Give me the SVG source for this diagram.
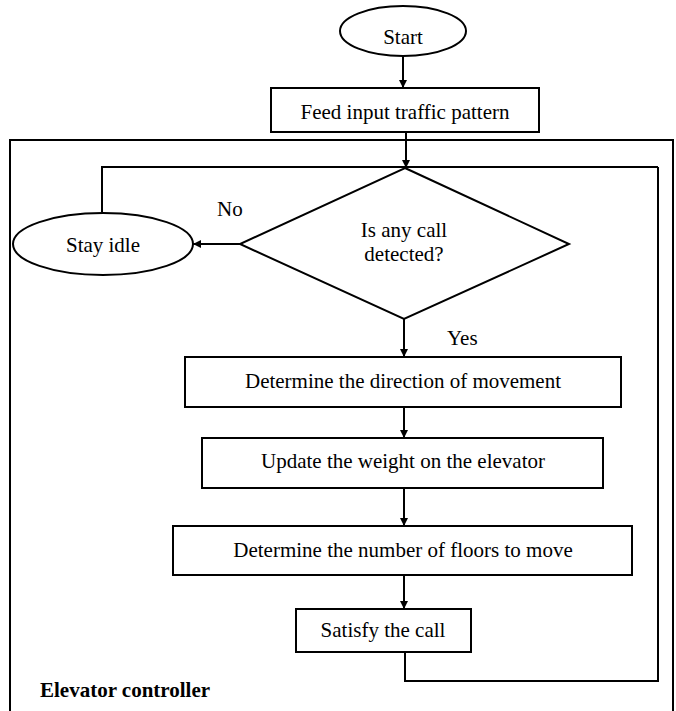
<svg xmlns="http://www.w3.org/2000/svg" width="676" height="711" viewBox="0 0 676 711">
<style>
.s{fill:#fff;stroke:#000;stroke-width:2}
.c{fill:none;stroke:#000;stroke-width:2}
.m{text-anchor:middle}
text{font-family:"Liberation Serif",serif;font-size:21px}
</style>
<defs>
<marker id="ah" viewBox="0 0 10 10" refX="10" refY="5" markerWidth="8" markerHeight="8" markerUnits="userSpaceOnUse" orient="auto">
<path d="M0,0 L10,5 L0,10 z" fill="#000"/>
</marker>
</defs>
<rect x="0" y="0" width="676" height="711" fill="#fff"/>
<g id="controller">
<rect x="10" y="140" width="663" height="590" fill="none" stroke="#000" stroke-width="2"/>
<text font-weight="bold" x="40" y="697">Elevator controller</text>
</g>
<g id="connectors">
<line class="c" x1="403" y1="56" x2="403" y2="88" marker-end="url(#ah)"/>
<line class="c" x1="406" y1="132" x2="406" y2="168" marker-end="url(#ah)"/>
<polyline class="c" points="102,212 102,167 658,167"/>
<polyline class="c" points="405,652 405,681 658,681 658,167"/>
<line class="c" x1="240" y1="244" x2="193" y2="244" marker-end="url(#ah)"/>
<line class="c" x1="404" y1="319" x2="404" y2="357" marker-end="url(#ah)"/>
<line class="c" x1="404" y1="407" x2="404" y2="438" marker-end="url(#ah)"/>
<line class="c" x1="404" y1="488" x2="404" y2="526" marker-end="url(#ah)"/>
<line class="c" x1="404" y1="575" x2="404" y2="609" marker-end="url(#ah)"/>
<text x="217" y="216">No</text>
<text x="447" y="345">Yes</text>
</g>
<g id="start">
<ellipse class="s" cx="403" cy="31" rx="63" ry="25"/>
<text class="m" x="403" y="44">Start</text>
</g>
<g id="feed">
<rect class="s" x="271" y="88" width="268" height="44"/>
<text class="m" x="405" y="119">Feed input traffic pattern</text>
</g>
<g id="decision">
<polygon class="s" points="405,168 569,244 404,319 240,244"/>
<text class="m" x="404" y="237">Is any call</text>
<text class="m" x="404" y="261">detected?</text>
</g>
<g id="idle">
<ellipse class="s" cx="103" cy="244" rx="90" ry="31"/>
<text class="m" x="103" y="252">Stay idle</text>
</g>
<g id="direction">
<rect class="s" x="185" y="357" width="436" height="50"/>
<text class="m" x="403" y="388">Determine the direction of movement</text>
</g>
<g id="weight">
<rect class="s" x="202" y="438" width="401" height="50"/>
<text class="m" x="403" y="468">Update the weight on the elevator</text>
</g>
<g id="floors">
<rect class="s" x="173" y="526" width="459" height="49"/>
<text class="m" x="403" y="557">Determine the number of floors to move</text>
</g>
<g id="satisfy">
<rect class="s" x="296" y="609" width="175" height="43"/>
<text class="m" x="383" y="637">Satisfy the call</text>
</g>
</svg>
